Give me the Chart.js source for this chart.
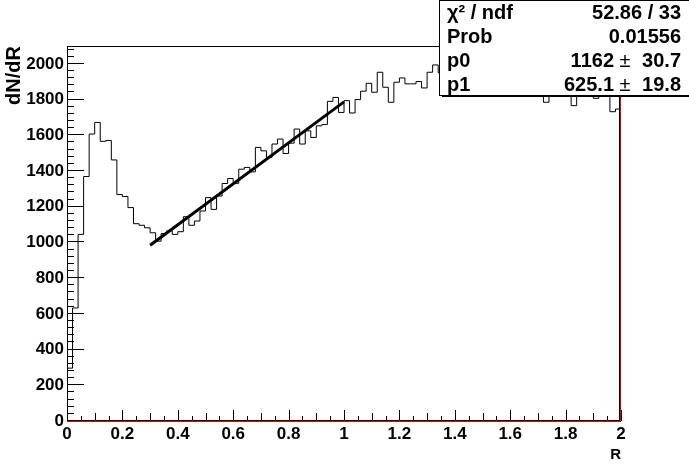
<!DOCTYPE html>
<html>
<head>
<meta charset="utf-8">
<script src="https://cdn.jsdelivr.net/npm/chart.js@4/dist/chart.umd.min.js"></script>
<style>
  html, body { margin: 0; padding: 0; background: #fff; }
  #wrap { width: 689px; height: 467px; }
</style>
</head>
<body>
<div id="wrap"><canvas id="c" width="689" height="467"></canvas></div>
<script>
// histogram: 100 bins of 0.02 from R=0 to R=2
var binWidth = 0.02;
var counts = [
  296, 633, 1045, 1369, 1607, 1672, 1566, 1571, 1462, 1268,
  1257, 1195, 1105, 1096, 1082, 1054, 1007, 1050, 1065, 1045,
  1060, 1144, 1096, 1120, 1176, 1251, 1185, 1260, 1330, 1358,
  1331, 1410, 1420, 1395, 1532, 1513, 1476, 1551, 1579, 1498,
  1556, 1635, 1551, 1625, 1588, 1653, 1660, 1790, 1812, 1728,
  1794, 1725, 1800, 1847, 1891, 1841, 1953, 1869, 1785, 1897,
  1921, 1888, 1888, 1901, 1865, 1953, 1994, 1950, 1900, 1930,
  1880, 1960, 1910, 1890, 1940, 1870, 1920, 1900, 1950, 1880,
  1910, 1930, 1870, 1900, 1940, 1890, 1785, 1920, 1880, 1940,
  1900, 1766, 1910, 1870, 1930, 1807, 1890, 1850, 1732, 1747
];

// fitted straight line, end points
var fitX = [0.3, 1.0];
var fitY = [984, 1787];

var xTickValues = [0, 0.2, 0.4, 0.6, 0.8, 1, 1.2, 1.4, 1.6, 1.8, 2];
var xTickLabels = ['0', '0.2', '0.4', '0.6', '0.8', '1', '1.2', '1.4', '1.6', '1.8', '2'];
var yTickValues = [0, 200, 400, 600, 800, 1000, 1200, 1400, 1600, 1800, 2000];
var yTickLabels = ['0', '200', '400', '600', '800', '1000', '1200', '1400', '1600', '1800', '2000'];

var statNames = ['\u03c7\u00b2 / ndf', 'Prob', 'p0', 'p1'];
var statValues = ['52.86 / 33', '0.01556', '1162', '625.1'];
var statErrors = ['', '', '30.7', '19.8'];

var FONT = '"Liberation Sans", Arial, Helvetica, sans-serif';

var histPoints = counts.map(function (v, i) { return { x: i * binWidth, y: v }; });
histPoints.push({ x: counts.length * binWidth, y: counts[counts.length - 1] });

var fitPoints = fitX.map(function (x, i) { return { x: x, y: fitY[i] }; });

// frame, inward ticks and the stats box, ROOT style
var rootDecor = {
  id: 'rootDecor',
  afterDatasetsDraw: function (chart) {
    var ctx = chart.ctx;
    var a = chart.chartArea;
    var xs = chart.scales.x, ys = chart.scales.y;
    var L = Math.round(a.left), R = Math.round(a.right), T = Math.round(a.top), B = Math.round(a.bottom);
    ctx.save();
    ctx.strokeStyle = '#000';
    ctx.lineWidth = 1;
    ctx.strokeRect(L + 0.5, T + 0.5, R - L - 2, B - T - 1);

    ctx.beginPath();
    // y ticks every 40, major every 200
    for (var v = 0; v <= 2100; v += 40) {
      var py = Math.round(ys.getPixelForValue(v)) - 0.5;
      var len = (v % 200 === 0) ? 17 : 7;
      ctx.moveTo(L, py);
      ctx.lineTo(L + len, py);
    }
    // x ticks every 0.05, major every 0.2
    for (var k = 0; k <= 40; k++) {
      var px = Math.round(xs.getPixelForValue(k * 0.05)) + 0.5;
      var l = (k % 4 === 0) ? 11 : (k % 2 === 0 ? 8 : 5);
      ctx.moveTo(px, B);
      ctx.lineTo(px, B - l);
    }
    ctx.stroke();

    // red edges at bottom and right
    ctx.strokeStyle = '#e00000';
    ctx.beginPath();
    ctx.moveTo(L, B + 0.5);
    ctx.lineTo(R, B + 0.5);
    ctx.moveTo(R - 0.5, T + 1);
    ctx.lineTo(R - 0.5, B);
    ctx.stroke();
    ctx.restore();
  },
  afterDraw: function (chart) {
    var ctx = chart.ctx;
    var bx = 439, by = 0, bw = 260, bh = 95;
    ctx.save();
    ctx.fillStyle = '#000';
    ctx.fillRect(bx + 3, by + bh, bw, 2);
    ctx.fillStyle = '#fff';
    ctx.fillRect(bx, by, bw, bh);
    ctx.strokeStyle = '#000';
    ctx.lineWidth = 1;
    ctx.strokeRect(bx + 0.5, by + 0.5, bw, bh);

    ctx.fillStyle = '#000';
    ctx.textBaseline = 'middle';
    var bold = 'bold 20px ' + FONT;
    for (var i = 0; i < statNames.length; i++) {
      var cy = 13 + i * 24;
      ctx.font = bold;
      ctx.textAlign = 'left';
      ctx.fillText(statNames[i], 447, cy);
      if (statErrors[i]) {
        ctx.textAlign = 'right';
        ctx.fillText(statValues[i], 614, cy);
        ctx.textAlign = 'center';
        ctx.font = '20px ' + FONT;
        ctx.fillText('\u00b1', 625, cy);
        ctx.font = bold;
        ctx.textAlign = 'right';
        ctx.fillText(statErrors[i], 681, cy);
      } else {
        ctx.textAlign = 'right';
        ctx.fillText(statValues[i], 681, cy);
      }
    }
    ctx.restore();
  }
};

new Chart(document.getElementById('c'), {
  type: 'line',
  data: {
    datasets: [{
      data: histPoints,
      stepped: 'before',
      borderColor: '#000',
      borderWidth: 1,
      pointRadius: 0,
      fill: false
    }, {
      data: fitPoints,
      borderColor: '#000',
      borderWidth: 3,
      pointRadius: 0,
      fill: false
    }]
  },
  options: {
    responsive: false,
    animation: false,
    devicePixelRatio: 1,
    layout: { padding: { left: 0, right: 68, top: 46, bottom: 0 } },
    plugins: { legend: { display: false }, tooltip: { enabled: false } },
    scales: {
      x: {
        type: 'linear',
        min: 0,
        max: 2,
        afterBuildTicks: function (s) { s.ticks = xTickValues.map(function (v) { return { value: v }; }); },
        afterFit: function (s) { s.height = 46; },
        ticks: {
          autoSkip: false,
          maxRotation: 0,
          padding: 3,
          color: '#000',
          font: { family: FONT, size: 17, weight: 'bold' },
          callback: function (v) { return xTickLabels[xTickValues.indexOf(v)]; }
        },
        grid: { display: false, drawTicks: false },
        border: { display: false },
        title: {
          display: true,
          text: 'R',
          align: 'end',
          color: '#000',
          font: { family: FONT, size: 15, weight: 'bold' },
          padding: { top: 0, bottom: 3 }
        }
      },
      y: {
        type: 'linear',
        min: 0,
        max: 2100,
        afterBuildTicks: function (s) { s.ticks = yTickValues.map(function (v) { return { value: v }; }); },
        afterFit: function (s) { s.width = 67; },
        ticks: {
          autoSkip: false,
          padding: 3,
          color: '#000',
          font: { family: FONT, size: 17, weight: 'bold' },
          callback: function (v) { return yTickLabels[yTickValues.indexOf(v)]; }
        },
        grid: { display: false, drawTicks: false },
        border: { display: false },
        title: {
          display: true,
          text: 'dN/dR',
          align: 'end',
          color: '#000',
          font: { family: FONT, size: 20, weight: 'bold' },
          padding: { top: 2, bottom: 0 }
        }
      }
    }
  },
  plugins: [rootDecor]
});
</script>
</body>
</html>
